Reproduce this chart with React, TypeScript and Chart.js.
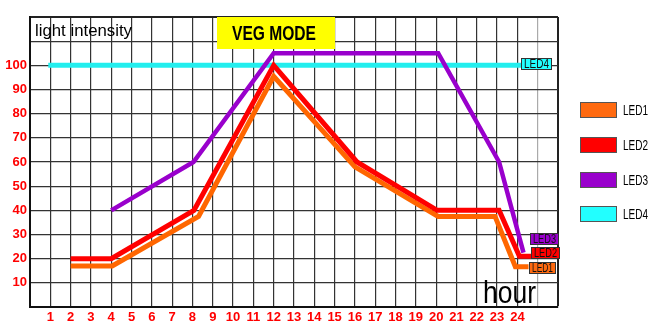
import React, { useEffect, useRef } from "react";
import { Chart, registerables } from "chart.js";

Chart.register(...registerables);

// ---- data ----
const seriesNames = ["LED1", "LED2", "LED3", "LED4"];
const seriesColors = ["#FF6600", "#FF0000", "#9900CC", "#22EEEE"];
const legendColors = ["#FF6A10", "#FF0000", "#9900CC", "#22FFFF"];

const led1Hours = [2, 4.05, 8.3, 12, 16, 20.1, 22.9, 23.9, 24.55];
const led1Values = [17, 17, 37.5, 95.5, 58, 37.5, 37.5, 16.7, 16.7];

const led2Hours = [2, 4, 8.07, 12, 16.1, 20.05, 23.1, 24.1, 24.7];
const led2Values = [20, 20, 40, 100, 60, 40, 40, 21, 21];

const led3Hours = [4, 8.05, 12, 20.1, 23.1, 24.3];
const led3Values = [40, 60, 105, 105, 60, 22.5];

const led4Hours = [0.9, 24.2];
const led4Values = [100, 100];

const xTickLabels = ["1","2","3","4","5","6","7","8","9","10","11","12","13","14","15","16","17","18","19","20","21","22","23","24"];
const yTickLabels = ["10","20","30","40","50","60","70","80","90","100"];

const titleText = "VEG MODE";
const yAxisText = "light intensity";
const xAxisText = "hour";

const FAMILY = "'Liberation Sans', Arial, sans-serif";

function fitText(ctx: CanvasRenderingContext2D, text: string, x: number, y: number, font: string, width: number, color: string) {
  ctx.save();
  ctx.font = font;
  ctx.fillStyle = color;
  ctx.textBaseline = "middle";
  ctx.textAlign = "left";
  const w = ctx.measureText(text).width;
  ctx.translate(x, y);
  ctx.scale(width / w, 1);
  ctx.fillText(text, 0, 0);
  ctx.restore();
}

const allHours = [led1Hours, led2Hours, led3Hours, led4Hours];
const allValues = [led1Values, led2Values, led3Values, led4Values];

const overlayPlugin = {
  id: "overlay",
  afterDatasetsDraw(chart: any) {
    const ctx: CanvasRenderingContext2D = chart.ctx;
    const xs = chart.scales.x;
    const ys = chart.scales.y;
    const area = chart.chartArea;

    // y axis label text
    fitText(ctx, yAxisText, area.left + 5, area.top + 14, `17px ${FAMILY}`, 97, "#000");

    // VEG MODE box
    ctx.save();
    ctx.fillStyle = "#FFFF00";
    ctx.fillRect(217, area.top, 118, 32);
    ctx.restore();
    fitText(ctx, titleText, 232, area.top + 17, `bold 20px ${FAMILY}`, 84, "#000");

    // hour text
    fitText(ctx, xAxisText, 483, area.bottom - 13, `32px ${FAMILY}`, 53, "#000");

    // end-of-line labels
    const offs = [
      { dx: 0, dy: 1, w: 27 },
      { dx: -1, dy: -3, w: 29 },
      { dx: 7, dy: -14, w: 29 },
      { dx: 0, dy: -1, w: 31 },
    ];
    for (let i = 0; i < 4; i++) {
      const hrs = allHours[i];
      const vals = allValues[i];
      const px = Math.round(xs.getPixelForValue(hrs[hrs.length - 1]) + offs[i].dx);
      const py = Math.round(ys.getPixelForValue(vals[vals.length - 1]) + offs[i].dy);
      const h = 12;
      ctx.save();
      ctx.fillStyle = legendColors[i];
      ctx.fillRect(px, py - h / 2, offs[i].w, h);
      ctx.strokeStyle = "#333";
      ctx.lineWidth = 1;
      ctx.strokeRect(px + 0.5, py - h / 2 + 0.5, offs[i].w - 1, h - 1);
      ctx.restore();
      fitText(ctx, seriesNames[i], px + 3, py + 0.5, `12px ${FAMILY}`, offs[i].w - 6, "#111");
    }

    // legend
    const tops = [102, 137, 172, 206];
    for (let i = 0; i < 4; i++) {
      ctx.save();
      ctx.fillStyle = legendColors[i];
      ctx.fillRect(580, tops[i], 37, 16);
      ctx.strokeStyle = "#555";
      ctx.lineWidth = 1;
      ctx.strokeRect(580.5, tops[i] + 0.5, 36, 15);
      ctx.restore();
      fitText(ctx, seriesNames[i], 623, tops[i] + 8.5, `15px ${FAMILY}`, 25, "#000");
    }
  },
};

export default function App() {
  const ref = useRef<HTMLCanvasElement>(null);
  useEffect(() => {
    document.body.style.margin = "0";
    const canvas = ref.current!;
    const order = [3, 2, 1, 4];
    const datasets = seriesNames.map((name, i) => ({
      label: name,
      data: allHours[i].map((h, j) => ({ x: h, y: allValues[i][j] })),
      borderColor: seriesColors[i],
      backgroundColor: seriesColors[i],
      borderWidth: i === 2 ? 4.5 : 5,
      pointRadius: 0,
      tension: 0,
      fill: false,
      order: order[i],
    }));
    const chart = new Chart(canvas, {
      type: "line",
      data: { datasets },
      options: {
        animation: false,
        responsive: false,
        events: [],
        layout: { padding: { top: 17, right: 102, left: 0, bottom: 0 } },
        plugins: { legend: { display: false }, tooltip: { enabled: false }, title: { display: false } },
        scales: {
          x: {
            type: "linear",
            min: 0,
            max: 26,
            afterFit: (s: any) => { s.height = 27; },
            afterBuildTicks: (s: any) => {
              const t = [];
              for (let v = 0; v <= 26; v++) t.push({ value: v });
              s.ticks = t;
            },
            ticks: {
              autoSkip: false,
              maxRotation: 0,
              padding: 3,
              color: "#FF0000",
              font: { family: FAMILY, size: 13, weight: "bold" },
              callback: (v: any) => (v >= 1 && v <= 24 ? xTickLabels[v - 1] : ""),
            },
            grid: {
              drawTicks: false,
              color: (c: any) => (c.tick && c.tick.value === 25 ? "#aaaaaa" : c.tick && c.tick.value === 26 ? "#222" : "#333"),
              lineWidth: (c: any) => (c.tick && c.tick.value === 26 ? 2 : 1.2),
            },
            border: { color: "#111", width: 2 },
          },
          y: {
            type: "linear",
            min: 0,
            max: 120,
            afterFit: (s: any) => { s.width = 30; },
            afterBuildTicks: (s: any) => {
              const t = [];
              for (let v = 0; v <= 120; v += 10) t.push({ value: v });
              s.ticks = t;
            },
            ticks: {
              autoSkip: false,
              padding: 3,
              color: "#FF0000",
              font: { family: FAMILY, size: 13, weight: "bold" },
              callback: (v: any) => (v >= 10 && v <= 100 ? yTickLabels[v / 10 - 1] : ""),
            },
            grid: {
              drawTicks: false,
              color: (c: any) => (c.tick && c.tick.value === 120 ? "#222" : "#333"),
              lineWidth: (c: any) => (c.tick && c.tick.value === 120 ? 2 : 1.2),
            },
            border: { color: "#111", width: 2 },
          },
        },
      },
      plugins: [overlayPlugin],
    } as any);
    return () => chart.destroy();
  }, []);
  return (
    <div style={{ width: 660, height: 334, background: "#fff" }}>
      <canvas ref={ref} width={660} height={334} style={{ display: "block" }} />
    </div>
  );
}
